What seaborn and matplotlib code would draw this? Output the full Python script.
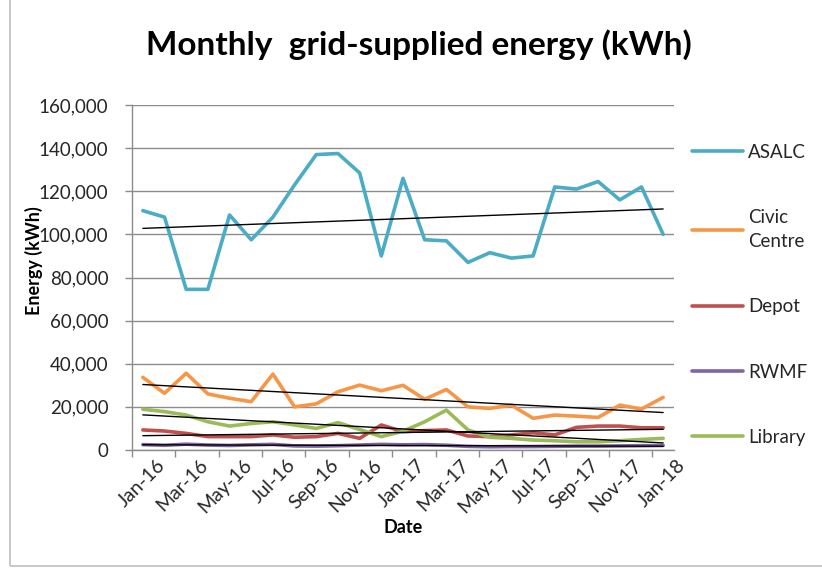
import numpy as np
import pandas as pd
import matplotlib.pyplot as plt
import seaborn as sns
from matplotlib.lines import Line2D
from matplotlib.patches import Rectangle
from matplotlib.ticker import FuncFormatter, MultipleLocator
from matplotlib.transforms import ScaledTranslation

# -------------------
# Data
months = ["Jan-16", "Feb-16", "Mar-16", "Apr-16", "May-16", "Jun-16", "Jul-16",
          "Aug-16", "Sep-16", "Oct-16", "Nov-16", "Dec-16", "Jan-17", "Feb-17",
          "Mar-17", "Apr-17", "May-17", "Jun-17", "Jul-17", "Aug-17", "Sep-17",
          "Oct-17", "Nov-17", "Dec-17", "Jan-18"]

asalc = [111000, 108000, 74500, 74500, 109000, 97500, 108000, 123000, 137000,
         137500, 128500, 90000, 126000, 97500, 97000, 87000, 91500, 89000,
         90000, 122000, 121000, 124500, 116000, 122000, 100000]
civic = [33700, 26300, 35600, 26000, 24000, 22400, 35200, 20000, 21400, 27000,
         30100, 27500, 30000, 23500, 28100, 20000, 19300, 20800, 14700, 16200,
         15700, 15100, 20800, 19000, 24400]
depot = [9300, 8800, 7700, 6200, 6200, 6200, 7000, 5900, 6200, 7700, 5400,
         11600, 8500, 9000, 9300, 6500, 6200, 7000, 8000, 7000, 10500, 11100,
         11100, 10300, 10300]
rwmf = [2500, 2200, 2700, 2300, 2100, 2400, 2600, 1900, 1800, 2000, 2300, 2600,
        2400, 2500, 2200, 1700, 1500, 1600, 1600, 1700, 1800, 1800, 1900, 2000,
        2100]
library = [18900, 17800, 16200, 13100, 11100, 12300, 13100, 11600, 10000, 12700,
           9500, 6200, 8700, 13100, 18500, 9300, 5900, 5400, 4600, 4300, 3800,
           3800, 4300, 4900, 5400]

sites = ["ASALC", "Civic Centre", "Depot", "RWMF", "Library"]
legend_labels = ["ASALC", "Civic\nCentre", "Depot", "RWMF", "Library"]
colors = ["#4BACC6", "#F79646", "#C0504D", "#8064A2", "#9BBB59"]

wide = pd.DataFrame({"month": months, "idx": np.arange(len(months)),
                     "ASALC": asalc, "Civic Centre": civic, "Depot": depot,
                     "RWMF": rwmf, "Library": library})
df = wide.melt(id_vars=["month", "idx"], var_name="site", value_name="kwh")

# -------------------
# Style
sns.set_theme(style="white")
plt.rcParams["font.family"] = ["Lato", "DejaVu Sans"]

fig = plt.figure(figsize=(8.22, 5.69), dpi=100)
ax = fig.add_axes([132 / 822, 1 - 450 / 569, 542 / 822, 345 / 569])

sns.lineplot(data=df, x="idx", y="kwh", hue="site", hue_order=sites,
             palette=colors, linewidth=2.6, legend=False, ax=ax)

# linear trendlines (like Excel)
for s in sites:
    sub = df[df["site"] == s]
    k, b = np.polyfit(sub["idx"], sub["kwh"], 1)
    xs = np.array([sub["idx"].min(), sub["idx"].max()])
    ax.plot(xs, k * xs + b, color="black", linewidth=1.0, zorder=5)

# -------------------
# Axes
ax.set_xlim(-0.5, len(months) - 0.5)
ax.set_ylim(0, 160000)
ax.yaxis.set_major_locator(MultipleLocator(20000))
ax.yaxis.set_major_formatter(FuncFormatter(lambda v, p: f"{int(v):,}"))
ax.yaxis.grid(True, color="#8c8c8c", linewidth=1.0)
ax.set_axisbelow(True)

ax.set_xticks(wide["idx"][::2])
ax.set_xticklabels(wide["month"][::2])
ax.set_xticks(np.arange(-0.5, len(months) - 1, 2), minor=True)
ax.tick_params(axis="x", which="major", length=0, pad=4, labelsize=14,
               labelcolor="#262626")
ax.tick_params(axis="x", which="minor", length=5, width=1, color="#8c8c8c",
               direction="out", bottom=True)
ax.tick_params(axis="y", length=5, width=1, color="#8c8c8c", direction="out",
               left=True, pad=12, labelsize=13.5, labelcolor="#262626")

offset = ScaledTranslation(14 / 72, -5 / 72, fig.dpi_scale_trans)
for lab in ax.get_xticklabels():
    lab.set_rotation(45)
    lab.set_ha("right")
    lab.set_va("center")
    lab.set_rotation_mode("anchor")
    lab.set_transform(lab.get_transform() + offset)

for side in ["top", "right"]:
    ax.spines[side].set_visible(False)
for side in ["left", "bottom"]:
    ax.spines[side].set_color("#8c8c8c")
    ax.spines[side].set_linewidth(1.0)

ax.set_xlabel("Date", fontsize=13, fontweight="bold", color="black")
ax.set_ylabel("Energy (kWh)", fontsize=13, fontweight="bold", color="black")
ax.xaxis.set_label_coords(0.5, -0.2)
ax.yaxis.set_label_coords(-0.165, 0.55)

fig.suptitle("Monthly  grid-supplied energy (kWh)", x=419 / 822, y=1 - 45 / 569,
             va="center", fontsize=24, fontweight="bold", color="black")

# legend
handles = [Line2D([0], [0], color=c, linewidth=2.6) for c in colors]
leg = ax.legend(handles, legend_labels, loc="upper left",
                bbox_to_anchor=(692 / 822, 1 - 144 / 569),
                bbox_transform=fig.transFigure, frameon=False, fontsize=13.5,
                handlelength=2.7, handletextpad=0.3, labelspacing=2.57,
                borderaxespad=0, borderpad=0)
for t in leg.get_texts():
    t.set_linespacing(1.5)

# chart frame
fig.patches.append(Rectangle((10 / 822, 3 / 569), 0.995, 1.2,
                             transform=fig.transFigure, fill=False,
                             edgecolor="#bfbfbf", linewidth=1.2))

fig.savefig("out.png", dpi=100)
